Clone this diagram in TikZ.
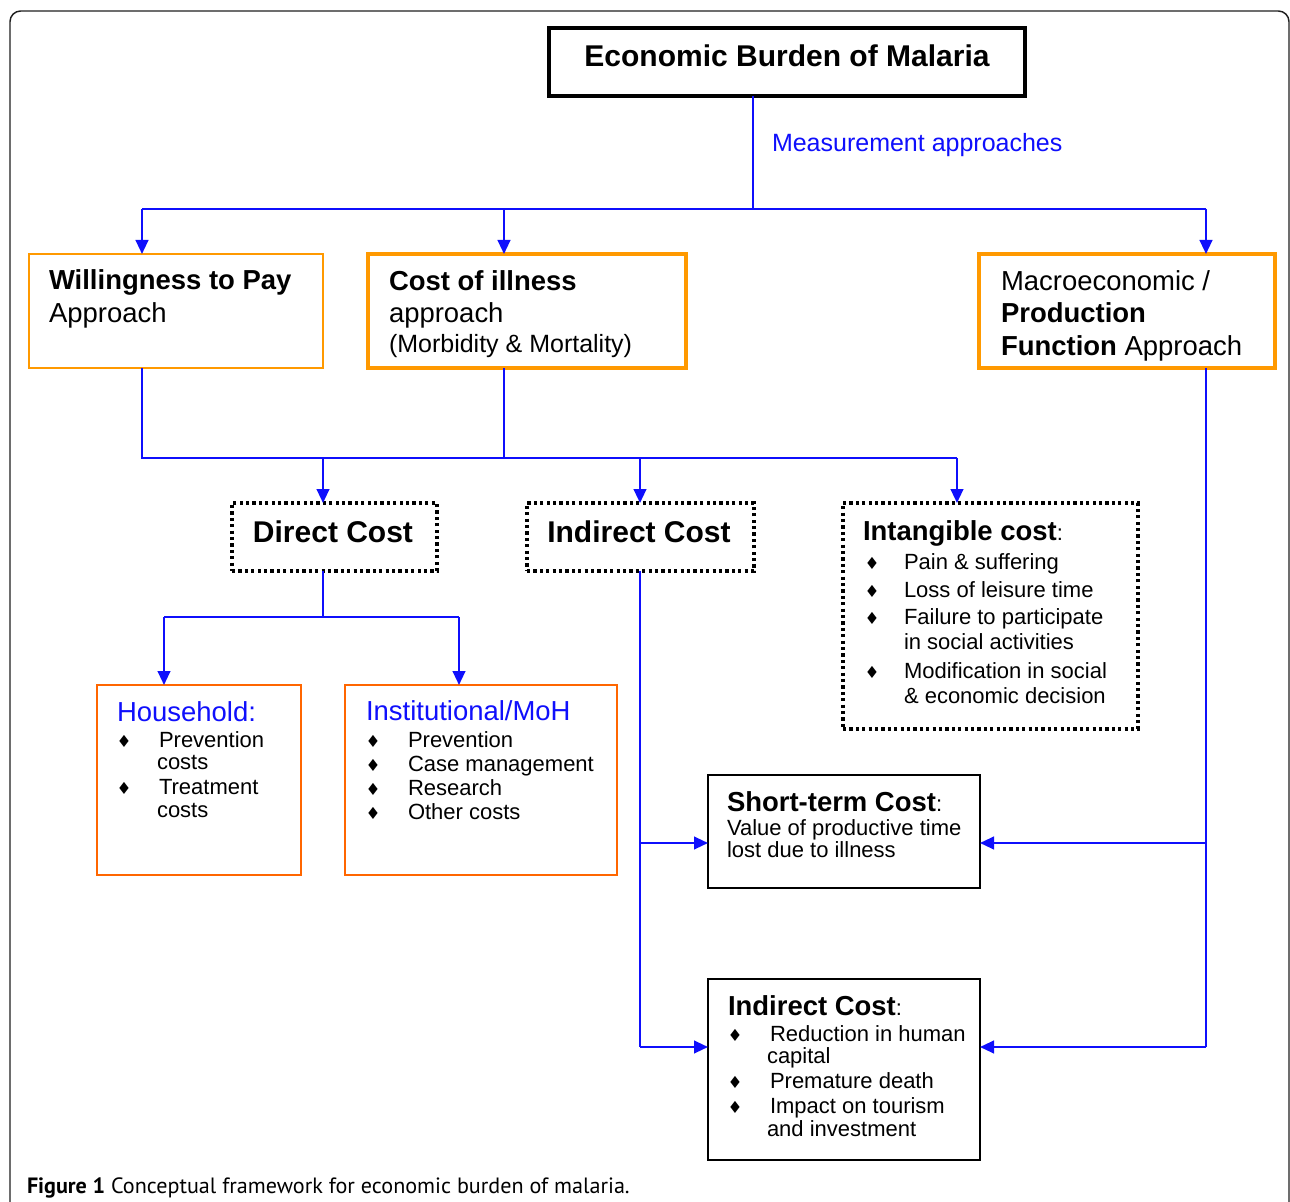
\documentclass[tikz,border=0pt]{standalone}
\usepackage{fontspec}
\setmainfont{Liberation Sans}
\newfontfamily\capfont{PT Sans}
\newfontfamily\symfont{DejaVu Sans}
\usetikzlibrary{arrows.meta,fit}
\definecolor{mblue}{RGB}{15,15,252}
\definecolor{orA}{RGB}{255,153,0}
\definecolor{orB}{RGB}{255,102,0}
\newcommand\fA{\fontsize{22.5pt}{26pt}\selectfont}
\newcommand\fB{\fontsize{20.6pt}{24pt}\selectfont}
\newcommand\fC{\fontsize{18.75pt}{22pt}\selectfont}
\newcommand\fD{\fontsize{16.5pt}{20pt}\selectfont}
\newcommand\bul{\symfont\fontsize{12.5pt}{13pt}\selectfont ♦}
\tikzset{
  x=0.75pt, y=-0.75pt,
  conn/.style={draw=mblue, line width=1.6pt},
  arr/.style={conn, -{Triangle[length=10.5pt,width=9.5pt]}},
  boxfit/.style={inner sep=0pt, outer sep=0pt},
  blackbox/.style={boxfit, draw=black, line width=1.8pt},
  titlebox/.style={boxfit, draw=black, line width=2.3pt},
  thinor/.style={boxfit, draw=orA, line width=1.5pt},
  thickor/.style={boxfit, draw=orA, line width=3pt},
  redor/.style={boxfit, draw=orB, line width=2.2pt},
  dotbox/.style={boxfit, draw=black, line width=2.4pt, dash pattern=on 2.4pt off 2.4pt},
  txt/.style={anchor=base west, inner sep=0pt, outer sep=0pt},
  bult/.style={anchor=base, inner sep=0pt, outer sep=0pt},
}
\begin{document}
\begin{tikzpicture}
\useasboundingbox (0,0) rectangle (1290,1202);
\begin{scope}
\clip (0,0) rectangle (1290,1202);
\fill[white] (0,0) rectangle (1290,1202);
\draw[draw=black!88, line width=1.1pt, rounded corners=8pt] (10,11) rectangle (1289,1260);
\end{scope}

% boxes
\node[titlebox, fit={(549,28) (1025,96)}] (title) {};
\node[thinor,  fit={(29,254) (323,368)}] (wtp) {};
\node[thickor, fit={(368,254) (686,368)}] (coi) {};
\node[thickor, fit={(979,254) (1275,368)}] (mac) {};
\node[dotbox,  fit={(232,503) (437,571)}] (dc) {};
\node[dotbox,  fit={(527,503) (754,571)}] (ic) {};
\node[dotbox,  fit={(843,503) (1138,729)}] (int) {};
\node[redor,   fit={(97,685) (301,875)}] (hh) {};
\node[redor,   fit={(345,685) (617,875)}] (inst) {};
\node[blackbox, fit={(708,775) (980,888)}] (st) {};
\node[blackbox, fit={(708,979) (980,1160)}] (ic2) {};

% connectors
\coordinate (j0) at (753,209);
\coordinate (a1) at (142,209);
\coordinate (a2) at (504,209);
\coordinate (a3) at (1206,209);
\draw[conn] (j0 |- title.south) -- (j0);
\draw[conn] (a1) -- (a3);
\draw[arr] (a1) -- (a1 |- wtp.north);
\draw[arr] (a2) -- (a2 |- coi.north);
\draw[arr] (a3) -- (a3 |- mac.north);

\coordinate (b1) at (142,458);
\coordinate (b2) at (504,458);
\coordinate (b3) at (323,458);
\coordinate (b4) at (640,458);
\coordinate (b5) at (957,458);
\draw[conn] (b1 |- wtp.south) -- (b1) -- (b5);
\draw[conn] (b2 |- coi.south) -- (b2);
\draw[arr] (b3) -- (b3 |- dc.north);
\draw[arr] (b4) -- (b4 |- ic.north);
\draw[arr] (b5) -- (b5 |- int.north);

\coordinate (c0) at (323,617);
\coordinate (c1) at (164,617);
\coordinate (c2) at (459,617);
\draw[conn] (c0 |- dc.south) -- (c0);
\draw[conn] (c1) -- (c2);
\draw[arr] (c1) -- (c1 |- hh.north);
\draw[arr] (c2) -- (c2 |- inst.north);

\coordinate (d1) at (640,843);
\coordinate (d2) at (640,1047);
\draw[conn] (d1 |- ic.south) -- (d2);
\draw[arr] (d1) -- (d1 -| st.west);
\draw[arr] (d2) -- (d2 -| ic2.west);

\coordinate (e1) at (1206,843);
\coordinate (e2) at (1206,1047);
\draw[conn] (e1 |- mac.south) -- (e2);
\draw[arr] (e1) -- (e1 -| st.east);
\draw[arr] (e2) -- (e2 -| ic2.east);

% texts
\node[bult] (titlet) at (787,67) {\fA\bfseries Economic Burden of Malaria};
\node[txt, text=mblue] (meas) at (772,152) {\fC Measurement approaches};

\node[txt] (wtp1) at (49,290) {\fB\bfseries Willingness to Pay};
\node[txt] (wtp2) at (49,322) {\fB Approach};

\node[txt] (coi1) at (389,291) {\fB\bfseries Cost of illness};
\node[txt] (coi2) at (389,322) {\fB approach};
\node[txt] (coi3) at (389,353) {\fC (Morbidity \& Mortality)};

\node[txt] (mac1) at (1001,291) {\fB Macroeconomic /};
\node[txt] (mac2) at (1001,323) {\fB\bfseries Production};
\node[txt] (mac3) at (1001,355) {\fB\textbf{Function} Approach};

\node[bult] (dct) at (333,542) {\fA\bfseries Direct Cost};
\node[bult] (ict) at (639,542) {\fA\bfseries Indirect Cost};

\node[txt] (int0) at (863,540) {\fB\textbf{Intangible cost}{\fD:}};
\node[txt] (int1) at (904,569) {\fD Pain \& suffering};
\node[txt] (int2) at (904,597) {\fD Loss of leisure time};
\node[txt] (int3) at (904,624) {\fD Failure to participate};
\node[txt] (int4) at (904,649) {\fD in social activities};
\node[txt] (int5) at (904,678) {\fD Modification in social};
\node[txt] (int6) at (904,703) {\fD \& economic decision};
\node[bult] (ib1) at (872,569) {\bul};
\node[bult] (ib2) at (872,597) {\bul};
\node[bult] (ib3) at (872,624) {\bul};
\node[bult] (ib4) at (872,678) {\bul};

\node[txt, text=mblue] (hh0) at (117,721) {\fB Household:};
\node[txt] (hh1) at (159,747) {\fD Prevention};
\node[txt] (hh2) at (157,769) {\fD costs};
\node[txt] (hh3) at (159,794) {\fD Treatment};
\node[txt] (hh4) at (157,817) {\fD costs};
\node[bult] (hb1) at (124,747) {\bul};
\node[bult] (hb2) at (124,794) {\bul};

\node[txt, text=mblue] (in0) at (366,720) {\fB Institutional/MoH};
\node[txt] (in1) at (408,747) {\fD Prevention};
\node[txt] (in2) at (408,771) {\fD Case management};
\node[txt] (in3) at (408,795) {\fD Research};
\node[txt] (in4) at (408,819) {\fD Other costs};
\node[bult] (nb1) at (373,747) {\bul};
\node[bult] (nb2) at (373,771) {\bul};
\node[bult] (nb3) at (373,795) {\bul};
\node[bult] (nb4) at (373,819) {\bul};

\node[txt] (st0) at (727,811) {\fB\textbf{Short-term Cost}{\fD:}};
\node[txt] (st1) at (727,835) {\fD Value of productive time};
\node[txt] (st2) at (727,857) {\fD lost due to illness};

\node[txt] (ic20) at (728,1015) {\fB\textbf{Indirect Cost}{\fD:}};
\node[txt] (ic21) at (770,1041) {\fD Reduction in human};
\node[txt] (ic22) at (767,1063) {\fD capital};
\node[txt] (ic23) at (770,1088) {\fD Premature death};
\node[txt] (ic24) at (770,1113) {\fD Impact on tourism};
\node[txt] (ic25) at (767,1136) {\fD and investment};
\node[bult] (cb1) at (735,1041) {\bul};
\node[bult] (cb2) at (735,1088) {\bul};
\node[bult] (cb3) at (735,1113) {\bul};

\node[txt] (cap) at (27,1193) {\capfont\fontsize{16.6pt}{19pt}\selectfont\textbf{Figure 1} Conceptual framework for economic burden of malaria.};
\end{tikzpicture}
\end{document}
